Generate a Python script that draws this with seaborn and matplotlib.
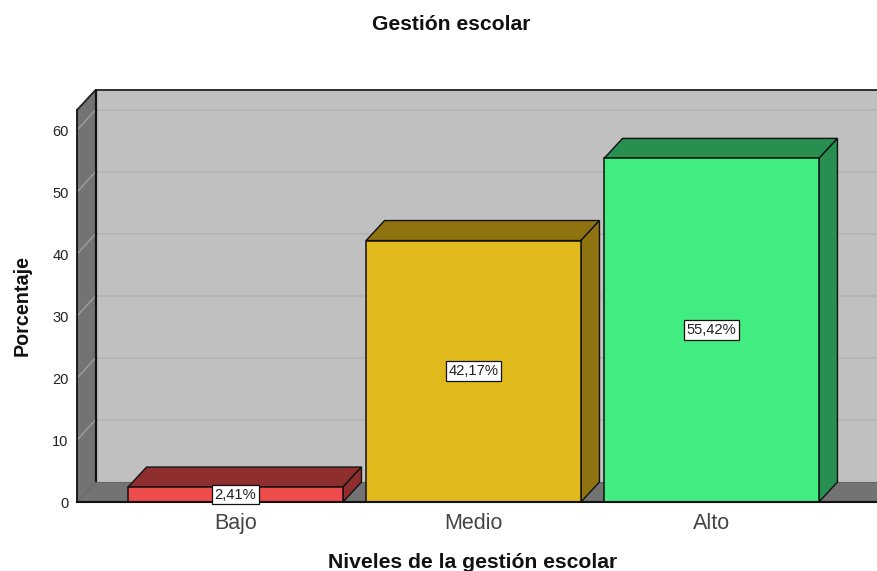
import matplotlib
matplotlib.use("Agg")
import matplotlib.pyplot as plt
import pandas as pd
import seaborn as sns
from matplotlib.patches import Polygon

niveles = ['Bajo', 'Medio', 'Alto']
porcentajes = [2.41, 42.17, 55.42]
etiquetas = ['2,41%', '42,17%', '55,42%']
yticks = [0, 10, 20, 30, 40, 50, 60]

colores_frente = ['#EE4B4D', '#E0BA1C', '#41EC80']
colores_lado = ['#8F2E2E', '#8E7310', '#288F50']

sns.set_theme(style='white')
plt.rcParams['font.family'] = ['Liberation Sans', 'DejaVu Sans']

df = pd.DataFrame({'Nivel': niveles, 'Porcentaje': porcentajes})

W, H = 877, 571
fig = plt.figure(figsize=(W / 100, H / 100), dpi=100)
ax = fig.add_axes([77 / W, (H - 502) / H, 800 / W, 412 / H])

sns.barplot(
    data=df, x='Nivel', y='Porcentaje', hue='Nivel', palette=colores_frente, saturation=1,
    width=0.903, edgecolor='#111111', linewidth=1.1, legend=False, zorder=5, ax=ax
)

# scales: 238 px between categories, 6.2 px per percent
xl, xr = -158.5 / 238, 641.5 / 238
ytop = 412 / 6.2
ax.set_xlim(xl, xr)
ax.set_ylim(0, ytop)

# fake 3D depth, in data units
dx = 18.5 / 238
dy = 20 / 6.2

# back wall, side wall, floor
ax.add_patch(Polygon([(xl + dx, dy), (xr, dy), (xr, ytop), (xl + dx, ytop)],
                     fc='#C0C0C0', ec='none', zorder=1, clip_on=False))
ax.add_patch(Polygon([(xl, 0), (xl + dx, dy), (xl + dx, ytop), (xl, ytop - dy)],
                     fc='#737373', ec='none', zorder=1, clip_on=False))
ax.add_patch(Polygon([(xl, 0), (xl + dx, dy), (xr, dy), (xr, 0)],
                     fc='#737373', ec='none', zorder=1, clip_on=False))

for v in yticks[1:]:
    ax.plot([xl + dx, xr], [v + dy, v + dy], color='#B2B2B2', lw=1.1, zorder=2)
    ax.plot([xl, xl + dx], [v, v + dy], color='#9C9C9C', lw=1.1, zorder=2)

# wall outlines
ax.plot([xl, xl + dx, xr], [ytop - dy, ytop, ytop], color='#222222', lw=1.3, zorder=3, clip_on=False)
ax.plot([xl + dx, xl + dx], [dy, ytop], color='#111111', lw=1.6, zorder=3, clip_on=False)
ax.plot([xl + dx, xr], [dy, dy], color='#666666', lw=0.8, zorder=3)
ax.plot([xl, xl + dx], [0, dy], color='#666666', lw=0.8, zorder=3)

# bar tops and sides, taken from the seaborn bars
for bar, lado in zip(ax.patches[:3], colores_lado):
    x0 = bar.get_x()
    x1 = x0 + bar.get_width()
    h = bar.get_height()
    ax.add_patch(Polygon([(x0, h), (x0 + dx, h + dy), (x1 + dx, h + dy), (x1, h)],
                         fc=lado, ec='#111111', lw=1.0, zorder=4, clip_on=False))
    ax.add_patch(Polygon([(x1, 0), (x1 + dx, dy), (x1 + dx, h + dy), (x1, h)],
                         fc=lado, ec='#111111', lw=1.0, zorder=4, clip_on=False))

for i, (v, txt) in enumerate(zip(porcentajes, etiquetas)):
    ax.text(i, v / 2, txt, ha='center', va='center', fontsize=10.6, color='#222222', zorder=7,
            bbox=dict(boxstyle='square,pad=0.2', fc='white', ec='#111111', lw=0.9))

sns.despine(ax=ax, top=True, right=True)
ax.spines['left'].set_bounds(0, ytop - dy)
ax.spines['left'].set_color('#111111')
ax.spines['left'].set_linewidth(1.3)
ax.spines['bottom'].set_color('#111111')
ax.spines['bottom'].set_linewidth(1.5)
ax.spines['left'].set_zorder(6)
ax.spines['bottom'].set_zorder(6)

ax.set_yticks(yticks)
ax.tick_params(axis='y', length=0, pad=6, labelsize=10.5, labelcolor='#222222')
ax.tick_params(axis='x', length=0, pad=8, labelsize=15.5, labelcolor='#444444')

ax.set_xlabel('Niveles de la gestión escolar', fontsize=15.2, fontweight='bold', color='#111111')
ax.xaxis.set_label_coords((473 - 77) / 800, -(562 - 502) / 412)
ax.xaxis.label.set_va('center')
ax.set_ylabel('Porcentaje', fontsize=14.2, fontweight='bold', color='#111111')
ax.yaxis.set_label_coords((22 - 77) / 800, (502 - 306) / 412)
ax.yaxis.label.set_va('center')

fig.text(451 / W, 1 - 24 / H, 'Gestión escolar', ha='center', va='center',
         fontsize=15.2, fontweight='bold', color='#111111')

fig.savefig('out.png', dpi=100)
